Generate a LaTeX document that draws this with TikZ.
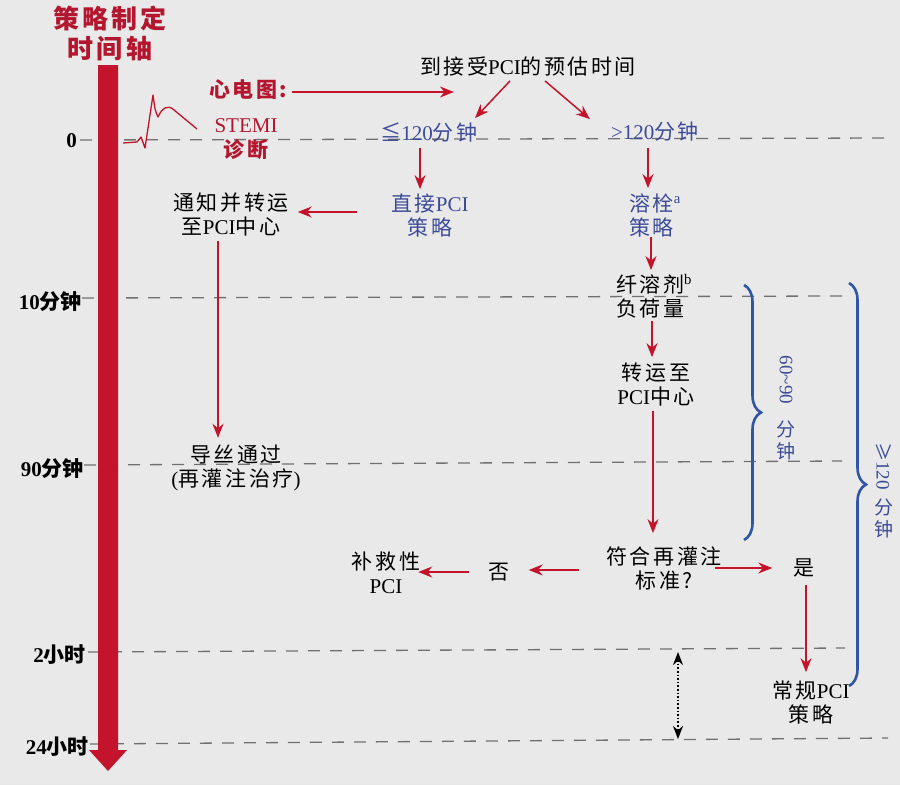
\documentclass[tikz,border=0pt]{standalone}
\usepackage{fontspec}
\setmainfont{Liberation Serif}
\newfontfamily\cjk[LetterSpace=12]{Noto Sans CJK SC}
\newfontfamily\cjkn{Noto Sans CJK SC}
\usetikzlibrary{arrows.meta,decorations.pathreplacing,calc}
\definecolor{bgc}{HTML}{E9E9E9}
\definecolor{rd}{HTML}{C4142C}
\definecolor{rdt}{HTML}{B3162E}
\definecolor{bl}{HTML}{3C4B98}
\definecolor{brc}{HTML}{2F55A6}
\definecolor{dg}{HTML}{707070}
\newcommand\zh[1]{{\cjk #1}}
\newcommand\zn[1]{{\cjkn #1}}
\begin{document}
\begin{tikzpicture}[x=1pt,y=-1pt,
  txt/.style={align=center, inner sep=1pt, font=\fontsize{21}{24}\selectfont},
  bltxt/.style={txt, text=bl},
  rdtxt/.style={txt, text=rdt, font=\bfseries\fontsize{21}{26}\selectfont},
  ttl/.style={align=center, inner sep=1pt, text=rdt, font=\cjk\bfseries\fontsize{26}{30}\selectfont},
  tlbl/.style={anchor=east, inner sep=1pt, font=\bfseries\fontsize{21}{22}\selectfont},
  grid/.style={draw=dg, line width=1.3pt, dash pattern=on 12pt off 10pt},
  rar/.style={draw=rd, line width=1.5pt, -{Stealth[length=14pt,width=11pt]}},
  brace/.style={draw=brc, line width=2.6pt, decorate, decoration={brace, amplitude=17pt}},
  brlbl/.style={inner sep=0pt, text=bl, font=\fontsize{19}{22}\selectfont}
]
\useasboundingbox[fill=bgc] (0,0) rectangle (900,785);

% dashed time lines
\draw[grid] (80,140) -- (890,138);
\draw[grid] (82,298) -- (842,296);
\draw[grid] (84,465) -- (842,461);
\draw[grid] (88,652) -- (845,648);
\draw[grid] (90,744) -- (888,738);

% time axis bar
\fill[rd] (98,65) -- (118,65) -- (118,750) -- (127,750) -- (108,771) -- (89,750) -- (98,750) -- cycle;

% title and time labels
\node[ttl] (title) at (110,33) {策略制定\\时间轴};
\node[tlbl] (t0) at (78,141) {0};
\node[tlbl] (t10) at (83,302) {10\zn{分钟}};
\node[tlbl] (t90) at (85,469) {90\zn{分钟}};
\node[tlbl] (t2h) at (87,655) {2\zn{小时}};
\node[tlbl] (t24h) at (90,747) {24\zn{小时}};

% ECG trace
\draw[rd, line width=1.3pt, line join=round] (123,143) -- (137,142) -- (141,137) -- (145,148)
  -- (153,95) .. controls (155,110) .. (158,117) .. controls (162,108) and (168,104) .. (174,110)
  -- (197,129);

% nodes
\node[rdtxt] (ecg) at (248,90) {\zh{心电图:}};
\node[txt, text=rdt] (stemi) at (246,139) {STEMI\\[1pt]\zh{\bfseries 诊断}};
\node[txt] (est) at (528,66) {\zh{到接受}PCI\zh{的预估时间}};
\node[bltxt] (le) at (429,132) {\zh{≦}120\zh{分钟}};
\node[bltxt] (gt) at (655,132) {>120\zh{分钟}};
\node[bltxt] (direct) at (430,216) {\zh{直接}PCI\\\zh{策略}};
\node[bltxt] (thromb) at (655,215) {\zh{溶栓}\textsuperscript{a}\\\zh{策略}\phantom{\textsuperscript{a}}};
\node[txt] (notify) at (231,214) {\zh{通知并转运}\\\zh{至}PCI\zh{中心}};
\node[txt] (guide) at (236,468) {\zh{导丝通过}\\(\zh{再灌注治疗})};
\node[txt] (lytic) at (654,296) {\zh{纤溶剂}\textsuperscript{b}\\\zh{负荷量}\phantom{\textsuperscript{b}}};
\node[txt] (transfer) at (656,385) {\zh{转运至}\\PCI\zh{中心}};
\node[txt] (crit) at (664,568) {\zh{符合再灌注}\\\zh{标准?}};
\node[txt] (no) at (499,572) {\zh{否}};
\node[txt] (salv) at (386,573) {\zh{补救性}\\PCI};
\node[txt] (yes) at (804,568) {\zh{是}};
\node[txt] (conv) at (811,702) {\zh{常规}PCI\\\zh{策略}};

% connector anchors
\coordinate (a1) at ($(ecg.east)+(4,2)$);
\coordinate (a4) at ($(le.south)+(-9,5)$);
\coordinate (a5) at ($(gt.south)+(-7,5)$);
\coordinate (a6) at ($(direct.west)+(-33,-4)$);
\coordinate (a7) at ($(notify.south)+(-13,4)$);
\coordinate (a8) at ($(thromb.south)+(-4,-1)$);
\coordinate (a9) at ($(lytic.south)+(-2,2)$);
\coordinate (a10) at ($(transfer.south)+(-3,3)$);
\coordinate (a11) at ($(crit.west)+(-26,2)$);
\coordinate (a12) at ($(no.west)+(-18,0)$);
\coordinate (a13) at ($(crit.east)+(-8,0)$);
\coordinate (a14) at ($(yes.south)+(2,7)$);

% connectors
\draw[rar] (a1) -- ($(a1 -| est.west)+(35,0)$);
\draw[rar] ($(est.south)+(-18,4)$) -- ($(le.north)+(46,-3)$);
\draw[rar] ($(est.south)+(17,4)$) -- ($(gt.north west)+(-20,-2)$);
\draw[rar] (a4) -- ($(a4 |- direct.north)+(0,-4)$);
\draw[rar] (a5) -- ($(a5 |- thromb.north)+(0,-4)$);
\draw[rar] (a6) -- ($(a6 -| notify.east)+(8,0)$);
\draw[rar] (a7) -- ($(a7 |- guide.north)+(0,-6)$);
\draw[rar] (a8) -- ($(a8 |- lytic.north)+(0,-3)$);
\draw[rar] (a9) -- ($(a9 |- transfer.north)+(0,-5)$);
\draw[rar] (a10) -- ($(a10 |- crit.north)+(0,-12)$);
\draw[rar] (a11) -- ($(a11 -| no.east)+(18,0)$);
\draw[rar] (a12) -- ($(a12 -| salv.east)+(-3,0)$);
\draw[rar] (a13) -- ($(a13 -| yes.west)+(-20,0)$);
\draw[rar] (a14) -- ($(a14 |- conv.north)+(0,-7)$);

% dotted span between 2 h and 24 h
\coordinate (d1) at (678,652);
\coordinate (d2) at (678,739);
\draw[black, line width=1.6pt, dotted, {Stealth[length=13pt,width=10pt]}-{Stealth[length=13pt,width=10pt]}] (d1) -- (d2);

% braces
\coordinate (b1t) at (744,285);
\coordinate (b1b) at (744,540);
\coordinate (b2t) at (849,283);
\coordinate (b2b) at (849,686);
\draw[brace] (b1t) -- (b1b);
\draw[brace] (b2t) -- (b2b);
\node[brlbl, rotate=-90] (r1a) at (786,380) {60\textasciitilde 90};
\node[brlbl, align=center] (r1b) at (786,440) {\zn{分}\\\zn{钟}};
\node[brlbl, rotate=-90] (r2a) at (884,466) {\zn{≥}120};
\node[brlbl, align=center] (r2b) at (884,518) {\zn{分}\\\zn{钟}};
\end{tikzpicture}
\end{document}
